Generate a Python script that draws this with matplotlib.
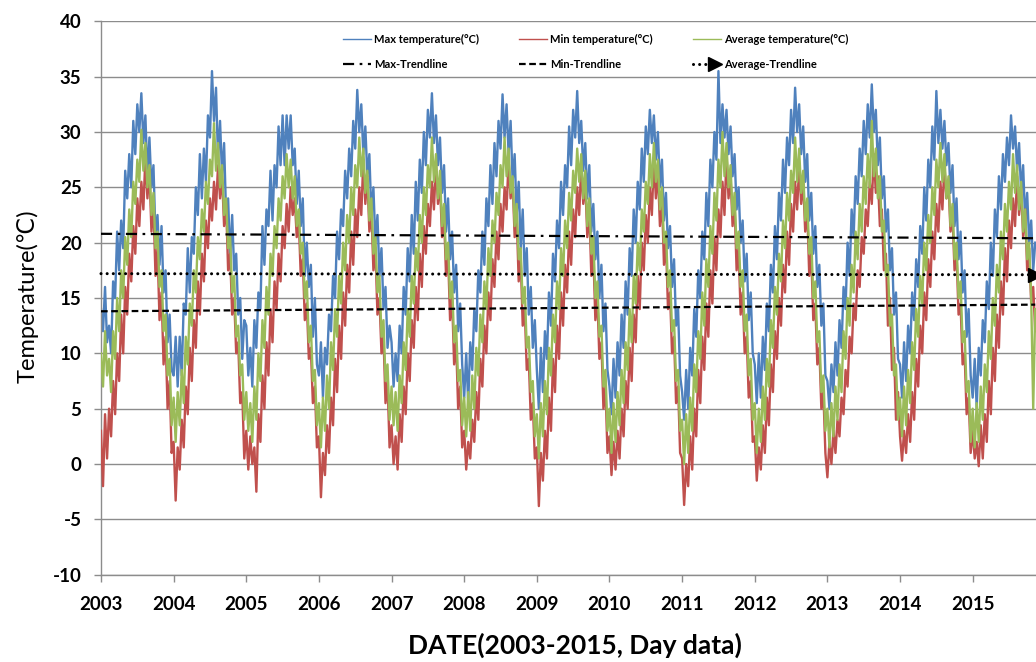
import matplotlib
matplotlib.use('Agg')
import matplotlib.pyplot as plt
import numpy as np

plt.rcParams['font.family'] = ['Lato', 'DejaVu Sans']
plt.rcParams['axes.unicode_minus'] = False

# readings taken off the chart, one every ~10 days (36 per year)
start_year = 2003
samples_per_year = 36
year_ticks = list(range(2003, 2016))

max_temp = [
    [14, 12, 16, 11, 12.5, 10, 16.5, 15, 21, 17.5, 22, 19.5, 26.5, 24, 28, 25, 31, 28, 32.5, 30, 33.5, 29, 31.5, 26, 29.5, 25, 27, 20.5, 22.5, 18, 21.5, 15.5, 17.5, 11, 13.5, 8.5],  # 2003
    [8, 11.5, 7, 11.5, 8, 14.5, 13.5, 19.5, 15.5, 20.5, 19, 25, 22.5, 28, 24, 28.5, 25.5, 31.5, 29.5, 35.5, 31, 34, 27.5, 31, 26, 29, 22.5, 24, 18.5, 22.5, 17.5, 19, 13.5, 15, 9.5, 13],  # 2004
    [12.5, 8, 10.5, 7, 13, 10.5, 15.5, 14, 21.5, 18, 23, 21.5, 26.5, 22, 27, 25, 30.5, 27, 31.5, 27, 31.5, 28.5, 31.5, 27, 28.5, 23.5, 26.5, 21.5, 24, 17, 20, 16, 18, 11.5, 15, 9],  # 2005
    [8, 11, 6, 10.5, 9, 13.5, 12, 17, 15, 21, 18.5, 23, 21.5, 26.5, 24, 28.5, 26, 31, 28.5, 33.8, 30, 32.5, 28, 30.5, 26, 28, 22.5, 25, 20, 22.5, 17, 19.5, 14, 16, 10.5, 12.5],  # 2006
    [11, 7, 10, 7.5, 12.5, 10, 16, 13.5, 19.5, 16.5, 22.5, 19, 25.5, 22, 27.5, 24.5, 30, 27, 32, 29.5, 33.5, 29, 31.5, 27, 29.5, 24.5, 27, 21, 24, 18.5, 21, 15.5, 18, 12, 14.5, 9],  # 2007
    [6, 10, 5.5, 11, 8.5, 14, 12, 17.5, 15.5, 21, 18, 24, 21.5, 27, 23.5, 29, 26, 31, 28.5, 33.4, 29.5, 32.5, 28, 31, 25.5, 28, 22.5, 25.5, 19.5, 23, 17, 19.5, 13.5, 16, 10.5, 13],  # 2008
    [8.5, 5, 10.5, 6.5, 12, 9.5, 15.5, 12.5, 19, 16.5, 22, 19.5, 25.5, 22.5, 27, 25, 30.5, 27, 32, 29.5, 33.7, 29, 31, 26.5, 29, 24, 27, 21, 23.5, 18.5, 21, 15, 18, 12, 14.5, 8.5],  # 2009
    [7, 4.5, 9.5, 6, 11, 8, 13.5, 10.5, 16.5, 13.5, 19.5, 17, 23, 20, 25.5, 23, 28.5, 25.5, 30.5, 28, 32, 29, 31.5, 27.5, 30, 25, 27.5, 22, 24.5, 19.5, 21.5, 16, 18.5, 12.5, 14, 8],  # 2010
    [6.5, 4, 8.5, 5, 10.5, 8, 14, 11.5, 17.5, 15, 21, 18.5, 24.5, 21.5, 27.5, 25, 30, 27.5, 35.5, 29, 32.5, 29.5, 32, 28, 30.5, 26, 28, 23, 25, 20, 22, 16.5, 19, 13, 15.5, 10],  # 2011
    [9, 5.5, 10, 6, 11.5, 8.5, 14.5, 12, 18, 15.5, 21.5, 18.5, 24.5, 22, 27.5, 24.5, 29.5, 27, 32, 29, 34, 30, 32.5, 28, 30.5, 25.5, 28, 22, 24.5, 19, 21.5, 16, 18, 12.5, 14.5, 8],  # 2012
    [7.5, 5, 9, 6.5, 11, 8, 13, 10.5, 16, 14, 20, 17, 23, 20.5, 26, 23.5, 28.5, 26, 31, 28, 32.5, 29.5, 34.3, 30, 32, 27, 29.5, 24, 26, 21, 23, 17.5, 19.5, 13.5, 15.5, 9.5],  # 2013
    [9, 6, 11, 7.5, 12.5, 10, 15.5, 13, 18.5, 16, 21.5, 19, 25, 22, 27.5, 25, 30.5, 27.5, 33.7, 29, 32, 28.5, 31, 27, 29, 24.5, 27, 21.5, 24, 18.5, 21, 15.5, 17.5, 11.5, 14, 8],  # 2014
    [6, 9.5, 5, 10.5, 8, 13, 11, 16.5, 14, 20, 17, 23, 20.5, 26, 23, 28, 25.5, 29.5, 27, 31.5, 28.5, 30.5, 26.5, 29, 24.5, 27, 22, 24.5, 20, 22, 17.5, 20],  # 2015
]

min_temp = [
    [3, -2, 4.5, 0.5, 5, 2.5, 7.5, 4.5, 10, 7.5, 13.5, 10, 16, 13.5, 19, 16.5, 21.5, 19, 24, 21.5, 25.5, 23, 27.8, 24, 26.5, 21, 23.5, 17, 19.5, 13, 15.5, 9, 11.5, 5, 7.5, 1],  # 2003
    [2, -3.3, 1.5, -0.5, 4, 1.5, 7, 4.5, 10.5, 7.5, 13, 10.5, 16.5, 13.5, 19, 16.5, 22, 19.5, 24, 22, 25.5, 23, 27, 24, 26, 21.5, 23.5, 17.5, 19, 13.5, 15, 10, 11, 5.5, 6.5, 0.5],  # 2004
    [3, -0.5, 2.5, 0, 1.5, -2.5, 4.5, 2, 8, 5, 11, 8, 14, 11, 16.5, 14, 19, 16.5, 21.5, 19.5, 23.5, 21, 25, 22.5, 24, 20.5, 22, 17, 18.5, 13, 14.5, 9.5, 10.5, 5.5, 7, 1.5],  # 2005
    [2.5, -3, 1, -1, 3.5, 1, 6, 3.5, 9.5, 6.5, 12.5, 9.5, 15.5, 12.5, 18, 15.5, 21, 18, 23, 20.5, 25, 22.5, 27.5, 23.5, 26, 21, 23, 17.5, 19.5, 13.5, 15, 10, 11.5, 5.5, 7.5, 1.5],  # 2006
    [3.5, 0, 2.5, -0.5, 4.5, 2, 7, 4.5, 10, 7.5, 13, 10.5, 16, 13, 19, 16, 21.5, 19, 23.5, 21.5, 25.5, 23, 27.2, 23.5, 25.5, 20.5, 22.5, 17, 19, 13, 15, 9, 11, 5, 7, 1.5],  # 2007
    [3, -0.5, 2, 0.5, 4, 2, 6.5, 4, 9.5, 7, 12.5, 10, 15.5, 13, 18.5, 16, 21, 18.5, 23.5, 21, 25, 23, 27.5, 24, 25.5, 20.5, 22.5, 16.5, 18.5, 12.5, 14, 8.5, 9.5, 4, 5.5, 0.5],  # 2008
    [1.5, -3.8, 1, -1.5, 3, 0.5, 6, 3, 9.5, 6.5, 12.5, 9.5, 15.5, 12.5, 18, 15.5, 21, 18, 23, 20.5, 25, 22.5, 27, 23.5, 25.5, 20.5, 23, 17, 19, 13, 15, 9.5, 11, 5, 7, 1],  # 2009
    [2.5, -1, 2, -0.5, 3, 0.5, 5, 2.5, 7.5, 5, 10.5, 7.5, 13.5, 11, 17, 14, 20, 17.5, 22.5, 20, 25, 22.5, 27.5, 24, 26.5, 21.5, 24, 18, 20, 14, 15.5, 10, 11.5, 5.5, 7, 1],  # 2010
    [0.5, -3.7, 0, -2, 2.5, -0.5, 5, 2.5, 8.5, 5.5, 11.5, 8.5, 14.5, 11.5, 17.5, 14.5, 20.5, 17.5, 23, 20.5, 25.5, 22.5, 28, 24, 26, 21.5, 23.5, 17.5, 19.5, 13.5, 15.5, 10, 11.5, 6, 7.5, 2],  # 2011
    [2.5, -1.5, 1.5, -0.5, 3.5, 1, 6, 3.5, 9, 6.5, 12, 9.5, 15, 12.5, 18, 15.5, 21, 18, 23.5, 21, 25.5, 23, 27, 23.5, 25.5, 21, 23, 17, 19, 13, 14.5, 9, 10.5, 5, 6.5, 1],  # 2012
    [-1.2, 2, 0, 3, 1, 4, 2.5, 6, 4.5, 8.5, 7, 11.5, 10, 14.5, 13, 17.5, 16, 20.5, 19, 23, 21.5, 25.5, 23.5, 28, 24.5, 26, 21.5, 23, 17.5, 19, 12.5, 15, 8.5, 10.5, 4, 6.5],  # 2013
    [2.5, 0.3, 3, 1, 4.5, 2, 6.5, 4, 9.5, 7, 12.5, 10, 15.5, 13, 18.5, 16, 21, 18.5, 23.5, 21, 25.5, 23, 27, 24, 25.5, 21, 22.5, 17.5, 19, 13.5, 14.5, 9, 10, 4.5, 6, 1],  # 2014
    [3, 0.5, 2, -0.2, 3.5, 0.5, 4.5, 2, 7.5, 4.5, 10.5, 7.5, 13.5, 10.5, 16.5, 13.5, 19.5, 16.5, 22, 19.5, 24, 21.5, 26, 22.5, 25, 20.5, 23, 17.5, 19.5, 14.5, 16, 12],  # 2015
]

avg_temp = [
    [10, 7, 12, 8, 9.5, 6.5, 12, 9.5, 15, 12, 17.5, 15, 20.5, 18, 23, 20.5, 25.5, 23.5, 27.5, 25.5, 30.2, 26.5, 29, 25, 27, 22.5, 24.5, 19.5, 21, 16, 17.5, 12, 13.5, 8, 9.5, 3.5],  # 2003
    [6, 2, 6.5, 3.5, 8.5, 5.5, 11.5, 9, 14.5, 12.5, 17.5, 15.5, 20.5, 18.5, 23, 21, 25.5, 23.5, 27.5, 26, 30.8, 26.5, 29, 25, 27, 22.5, 24, 19.5, 20.5, 15.5, 17, 11.5, 12.5, 8, 9, 4],  # 2004
    [6.5, 3, 5.5, 2, 7, 4, 10, 7.5, 13, 10.5, 16, 13.5, 19, 17, 21.5, 19.5, 24, 22, 26, 24, 28, 25, 27.5, 24, 26, 21.5, 23, 19, 20, 15, 16.5, 11, 12.5, 7.5, 8.5, 3.5],  # 2005
    [5.5, 1.5, 6, 3, 8, 5, 11, 8.5, 14, 11.5, 17, 14.5, 20, 17.5, 22.5, 20, 25, 22.5, 27, 25, 29.5, 26, 28.5, 24.5, 26.5, 22, 24, 19, 20.5, 15.5, 17, 11.5, 13, 7.5, 9, 4],  # 2006
    [7, 3.5, 6.5, 3, 8, 5.5, 11, 8.5, 14, 11.5, 17, 14.5, 19.5, 17.5, 22.5, 20, 25, 22.5, 27, 25, 29.5, 25.5, 28, 24, 26.5, 21.5, 23.5, 18.5, 20, 15, 16.5, 11, 12.5, 7.5, 8.5, 3.5],  # 2007
    [6, 2.5, 6.5, 3, 8, 5, 10.5, 8, 13.5, 11, 16.5, 14, 19.5, 17, 22, 20, 24.5, 22.5, 27, 25, 29.5, 26, 28.5, 24.5, 26, 21.5, 23.5, 18.5, 19.5, 14.5, 16, 10.5, 11.5, 6.5, 7.5, 2.5],  # 2008
    [4.5, 0.5, 5.5, 2.5, 7.5, 4.5, 10.5, 8, 13.5, 11, 16.5, 14, 19.5, 17, 22, 19.5, 24.5, 22, 26.5, 24.5, 28.5, 25.5, 28, 24, 26.5, 21.5, 24, 19, 20.5, 15, 16.5, 11.5, 12.5, 7, 8.5, 3],  # 2009
    [5, 1, 5.5, 2, 6.5, 3.5, 8.5, 5.5, 11, 8.5, 14, 11, 17, 14.5, 20, 17.5, 23, 21, 25.5, 23.5, 28, 25, 29, 25.5, 27.5, 23, 25, 20, 21, 16, 17.5, 12, 13, 7.5, 8.5, 3],  # 2010
    [4, 0, 4.5, 1, 6, 3, 9, 6.5, 12, 9.5, 15.5, 12.5, 18.5, 16, 21.5, 19, 24.5, 22, 27.5, 25, 30, 26, 29, 25, 27, 22.5, 24.5, 19.5, 21, 16, 17.5, 12, 13.5, 8, 9.5, 4],  # 2011
    [5.5, 1, 5, 2, 7, 4, 9.5, 7, 13, 10.5, 16, 13.5, 19, 16.5, 22, 19.5, 24.5, 22, 26.5, 24.5, 29.5, 25.5, 28.5, 24.5, 26.5, 22, 24, 19, 20.5, 15, 16.5, 11, 12, 6.5, 8, 3],  # 2012
    [5, 1.5, 5.5, 2.5, 7, 4, 9, 6.5, 12, 9.5, 15, 12.5, 18, 15.5, 21, 18.5, 23.5, 21, 26, 23.5, 28, 25, 31, 26, 28.5, 24, 26, 21, 22, 17, 18, 12.5, 13.5, 8, 9, 4],  # 2013
    [6, 2.5, 7, 3.5, 8.5, 5.5, 11, 8.5, 14, 11.5, 17, 14.5, 20, 17.5, 22.5, 20, 25, 22.5, 27.5, 25, 29, 25.5, 28, 24, 26, 21.5, 23.5, 18.5, 20, 15, 16.5, 11, 12, 6.5, 7.5, 2],  # 2014
    [5, 1.5, 5.5, 2, 7, 4, 9, 6.5, 12, 9.5, 15, 12.5, 18, 15.5, 21, 18.5, 23.5, 21, 25.5, 23, 28, 24.5, 27, 23, 25.5, 21, 23, 18.5, 20, 15, 5, 14],  # 2015
]

# linear trendlines, start and end values
max_trend = [20.8, 20.4]
min_trend = [13.8, 14.4]
avg_trend = [17.2, 17.1]

labels = ['Max temperature(°C)', 'Min temperature(°C)', 'Average temperature(°C)']
trend_labels = ['Max-Trendline', 'Min-Trendline', 'Average-Trendline']
colors = ['#4F81BD', '#C0504D', '#9BBB59']


max_series = np.concatenate([np.array(v, float) for v in max_temp])
min_series = np.concatenate([np.array(v, float) for v in min_temp])
avg_series = np.concatenate([np.array(v, float) for v in avg_temp])
assert len(max_series) == len(min_series) == len(avg_series)
t = start_year + np.arange(len(max_series)) / samples_per_year
t_trend = [t[0], t[-1]]

fig = plt.figure(figsize=(10.36, 6.62), dpi=100)
W, H = 1036.0, 662.0
ax = fig.add_axes([101 / W, 1 - 574.7 / H, (1036 - 101) / W, (574.7 - 21.3) / H])

l_max, = ax.plot(t, max_series, color=colors[0], lw=1.7, zorder=2)
l_min, = ax.plot(t, min_series, color=colors[1], lw=1.7, zorder=3)
l_avg, = ax.plot(t, avg_series, color=colors[2], lw=1.7, zorder=4)

tr_max, = ax.plot(t_trend, max_trend, color='black', lw=1.6,
                  linestyle=(0, (5, 2.5, 1.2, 2.5)), zorder=6)
tr_min, = ax.plot(t_trend, min_trend, color='black', lw=1.6,
                  linestyle=(0, (3, 1.6)), zorder=6)
tr_avg, = ax.plot(t_trend, avg_trend, color='black', lw=2.2,
                  linestyle=(0, (0.01, 2.0)), dash_capstyle='round',
                  marker='>', markevery=[1], markersize=10, zorder=6, clip_on=False)

ax.set_xlim(start_year, start_year + (1036 - 101) / 72.64)
ax.set_ylim(-10, 40)
ax.set_yticks(range(-10, 41, 5))
ax.set_xticks(year_ticks)
ax.set_xticklabels([str(y) for y in year_ticks])

grid_color = '#8c8c8c'
ax.yaxis.grid(True, color=grid_color, lw=1.0)
ax.set_axisbelow(True)
for side in ['top', 'right']:
    ax.spines[side].set_visible(False)
for side in ['left', 'bottom']:
    ax.spines[side].set_color(grid_color)
    ax.spines[side].set_linewidth(1.0)
ax.tick_params(axis='both', direction='out', length=5, width=1, colors=grid_color,
               labelcolor='black', labelsize=13.5)
ax.tick_params(axis='x', pad=10)
ax.tick_params(axis='y', pad=9)
for lab in ax.get_xticklabels() + ax.get_yticklabels():
    lab.set_fontweight('bold')

fig.text(28 / W, 1 - 296 / H, 'Temperature(℃)', rotation=90, ha='center', va='center',
         fontsize=17)
fig.text(575 / W, 1 - 645 / H, 'DATE(2003-2015, Day data)', ha='center', va='center',
         fontsize=19, fontweight='bold')

handles = [l_max, tr_max, l_min, tr_min, l_avg, tr_avg]
leg_labels = [labels[0], trend_labels[0], labels[1], trend_labels[1], labels[2], trend_labels[2]]
leg = ax.legend(handles, leg_labels, ncol=3, loc='upper left',
                bbox_to_anchor=((343 - 101) / 935, 0.978), frameon=False,
                borderpad=0, borderaxespad=0, handlelength=2.5, handletextpad=0.3,
                columnspacing=3.6, labelspacing=1.3,
                prop={'size': 8, 'weight': 'bold'})
leg_lines = leg.get_lines()
for ln in leg_lines[0::2]:
    ln.set_linewidth(1.0)
# put the arrow head of the average trendline at the right end of its key
arrow_key = leg_lines[5]
xd = arrow_key.get_xdata()
arrow_key.set_xdata([xd[0], (xd[0] + xd[-1]) / 2, xd[-1] - 4])
arrow_key.set_markevery([2])

fig.savefig('out.png', dpi=100)
